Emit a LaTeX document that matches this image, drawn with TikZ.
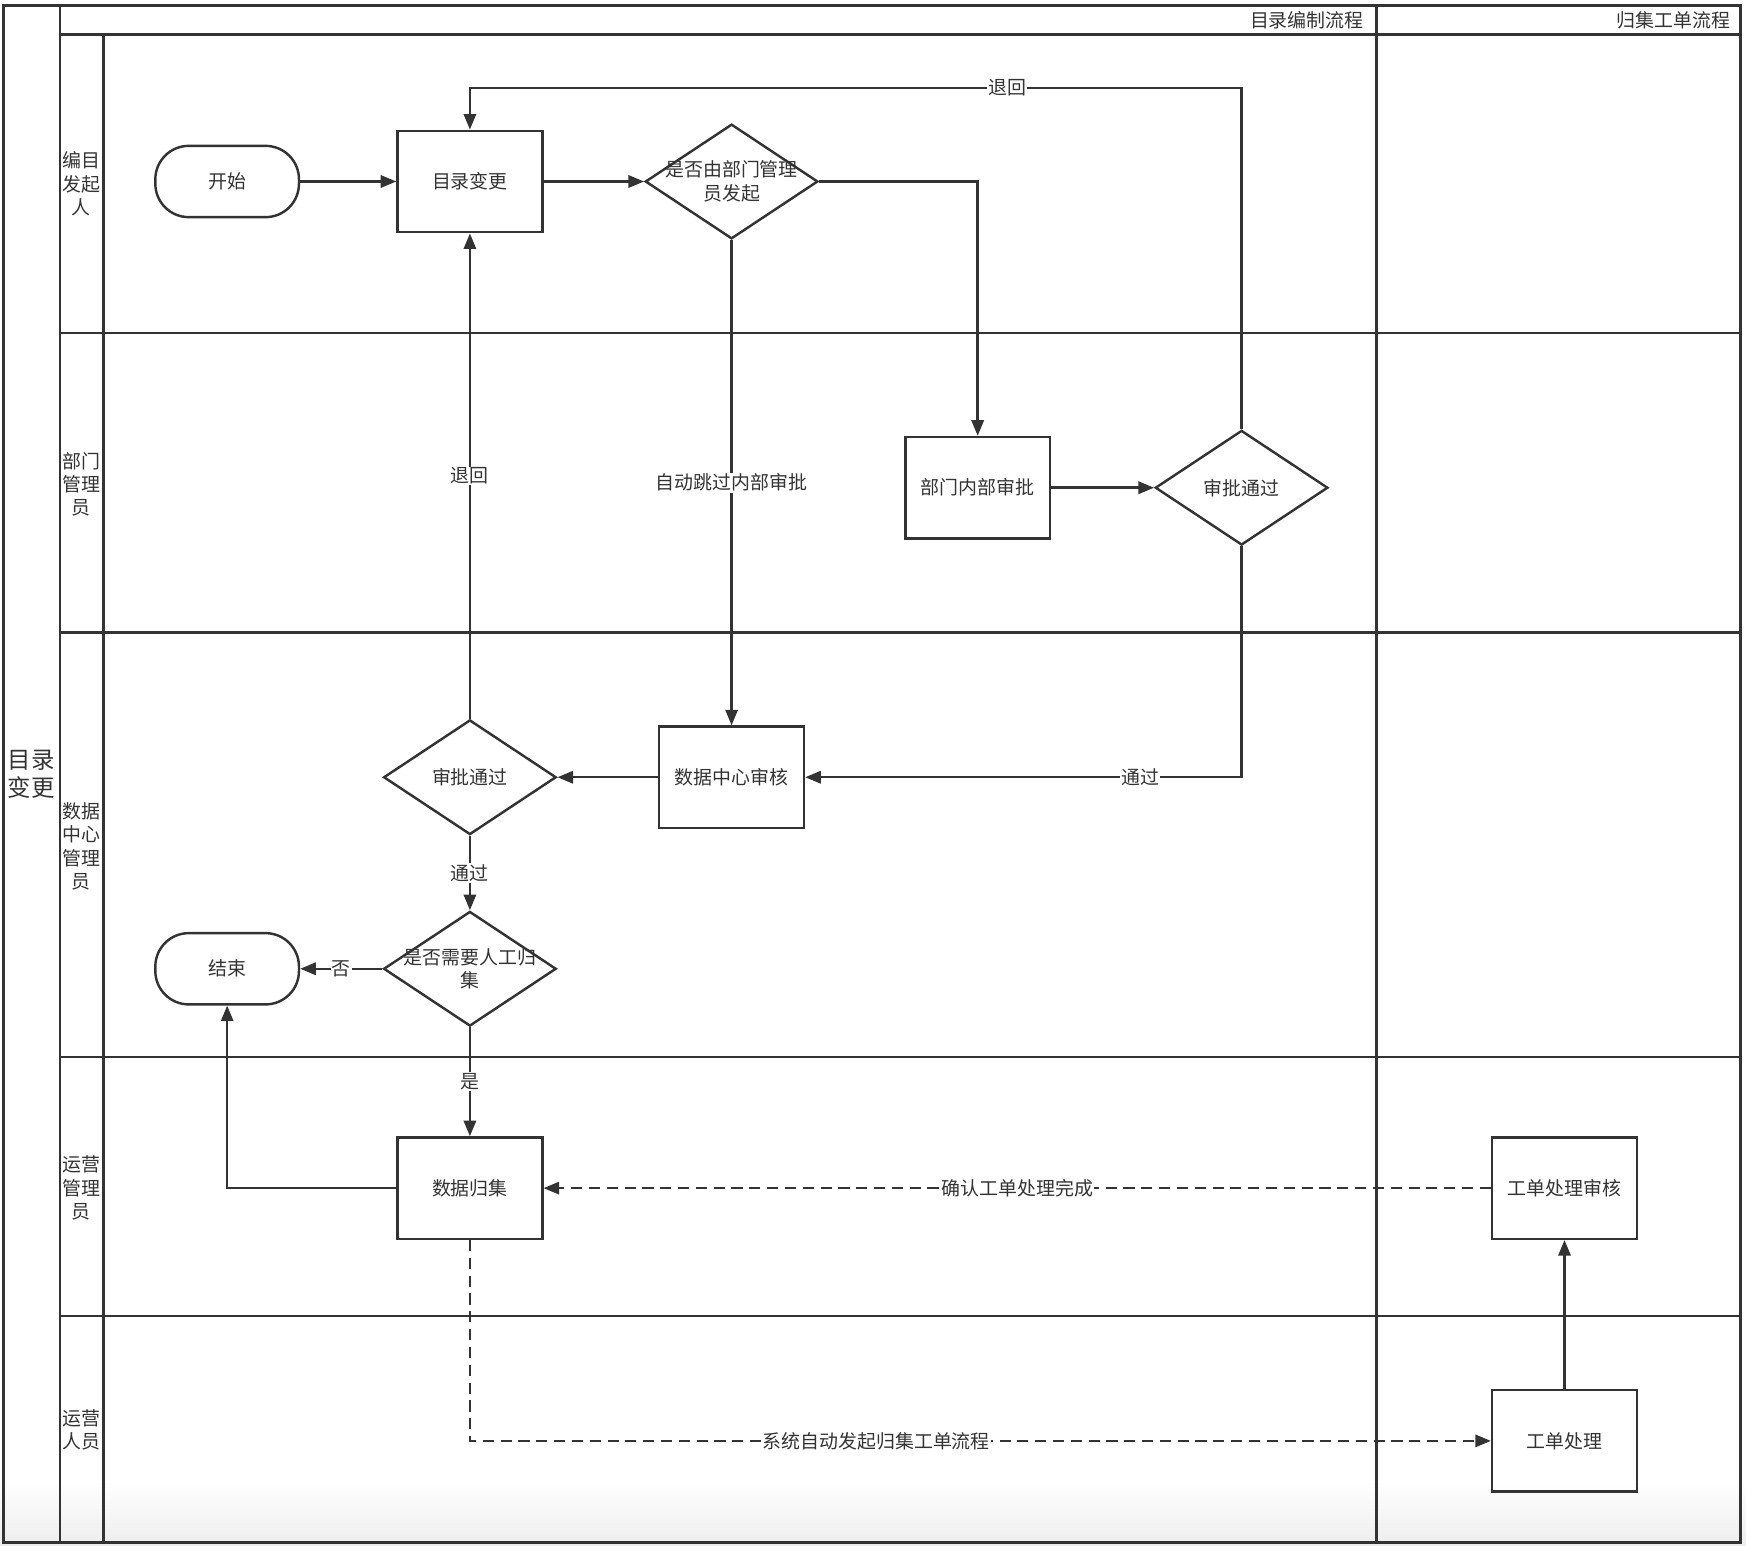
\documentclass[tikz,border=0pt]{standalone}
\usepackage{fontspec}
\setmainfont{Noto Sans CJK SC}
\usetikzlibrary{arrows.meta,shapes.geometric}
\definecolor{linegray}{HTML}{333333}

\begin{document}
\begin{tikzpicture}[x=1pt, y=-1pt, line width=2.2pt, color=linegray,
    >={Triangle[length=14pt,width=11pt]},
    every node/.style={font=\fontsize{17}{21}\selectfont},
    proc/.style={draw, rectangle, minimum width=130, minimum height=91, inner sep=0pt},
    term/.style={draw, rectangle, rounded corners=30pt, minimum width=129, minimum height=64, inner sep=0pt},
    decision/.style={draw, diamond, minimum width=155, minimum height=103, inner sep=0pt},
    lbl/.style={fill=white, inner sep=1pt},
    lanetext/.style={align=center, font=\fontsize{17}{21}\selectfont},
    dashline/.style={dash pattern=on 10pt off 6pt}]
    \useasboundingbox (0,0) rectangle (1568,1388);

    % a light shadow along the bottom
    \shade[top color=white, bottom color=black!7, draw=none] (0,1330) rectangle (1568,1388);

    % the pool and its lanes
    \draw[line width=3pt] (3,5) rectangle (1563,1385);
    \draw (54,5) -- (54,1385);
    \draw (54,31) -- (1563,31);
    \draw (93,31) -- (93,1385);
    \draw (1236,5) -- (1236,1385);
    \foreach \y in {299,568,949,1182}
        \draw (54,\y) -- (1563,\y);

    % the texts
    \node[lanetext, font=\fontsize{21}{25}\selectfont] (pool) at (28,695) {目录\\变更};
    \node[anchor=east] (colA) at (1229,18) {目录编制流程};
    \node[anchor=east] (colB) at (1558,18) {归集工单流程};
    \node[lanetext] (lane1) at (73,165) {编目\\发起\\人};
    \node[lanetext] (lane2) at (73,435) {部门\\管理\\员};
    \node[lanetext] (lane3) at (73,760) {数据\\中心\\管理\\员};
    \node[lanetext] (lane4) at (73,1067) {运营\\管理\\员};
    \node[lanetext] (lane5) at (73,1284) {运营\\人员};

    % the steps of the flow
    \node[term] (start) at (204,163) {开始};
    \node[proc] (change) at (422,163) {目录变更};
    \node[decision, label={[align=center]center:是否由部门管理\\员发起}] (bydept) at (657,163) {};
    \node[proc] (deptcheck) at (878,438) {部门内部审批};
    \node[decision, label={center:审批通过}] (deptok) at (1115,438) {};
    \node[proc] (dccheck) at (657,698) {数据中心审核};
    \node[decision, label={center:审批通过}] (dcok) at (422,698) {};
    \node[decision, label={[align=center]center:是否需要人工归\\集}] (needcollect) at (422,870) {};
    \node[term] (finish) at (204,870) {结束};
    \node[proc] (collect) at (422,1067) {数据归集};
    \node[proc] (orderreview) at (1405,1067) {工单处理审核};
    \node[proc] (order) at (1405,1294) {工单处理};
    \coordinate (backtop) at (1115,79);

    % draw the arrows
    \draw[->] (start) -- (change);
    \draw[->] (change) -- (bydept);
    \draw[->] (bydept.east) -| (deptcheck.north);
    \draw[->] (bydept.south) -- node[lbl] {自动跳过内部审批} (dccheck.north);
    \draw[->] (deptcheck) -- (deptok);
    \draw[->] (deptok.north) -- (backtop) -| node[lbl, pos=0.152] {退回} (change.north);
    \draw[->] (deptok.south) |- node[lbl, pos=0.616] {通过} (dccheck.east);
    \draw[->] (dccheck) -- (dcok);
    \draw[->] (dcok.north) -- node[lbl] {退回} (change.south);
    \draw[->] (dcok.south) -- node[lbl] {通过} (needcollect.north);
    \draw[->] (needcollect.west) -- node[lbl] {否} (finish.east);
    \draw[->] (needcollect.south) -- node[lbl] {是} (collect.north);
    \draw[->] (collect.west) -| (finish.south);
    \draw[->, dashline] (collect.south) |- node[lbl, pos=0.699] {系统自动发起归集工单流程} (order.west);
    \draw[->] (order) -- (orderreview);
    \draw[->, dashline] (orderreview.west) -- node[lbl] {确认工单处理完成} (collect.east);

\end{tikzpicture}
\end{document}
